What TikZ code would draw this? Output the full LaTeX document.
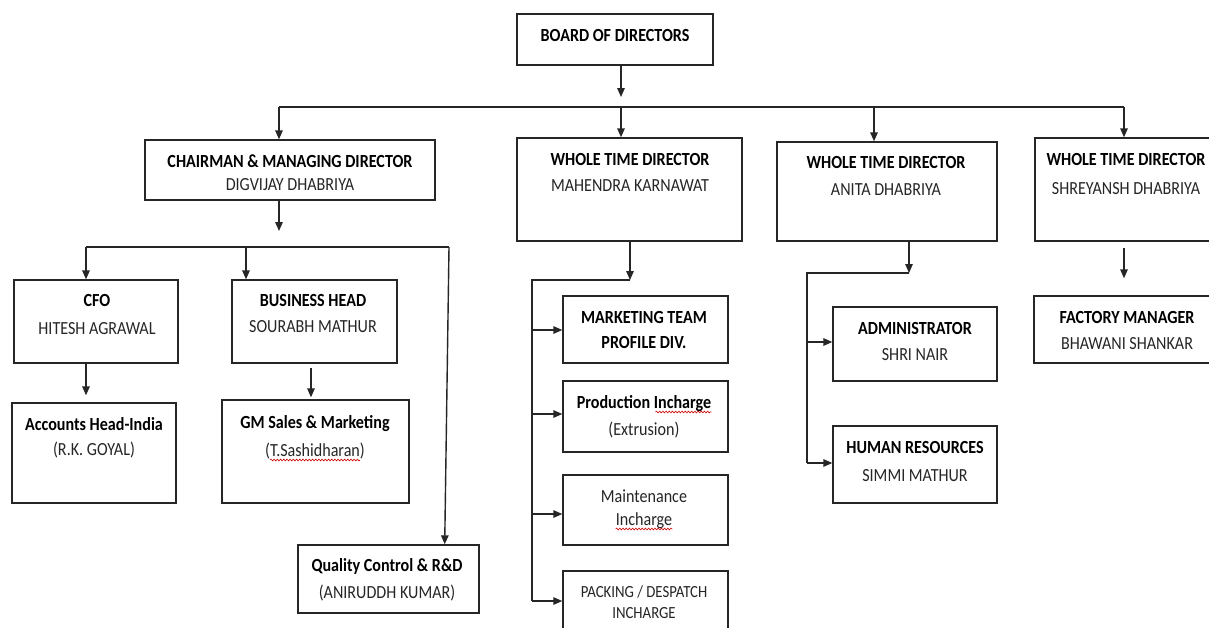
\documentclass[tikz,border=0pt]{standalone}
\usepackage{fontspec}
\setmainfont{Carlito}[FakeStretch=0.87]
\usetikzlibrary{arrows.meta,decorations.pathmorphing,calc,fit}
\tikzset{
 box/.style={draw=black!85, line width=1.4pt, rectangle, inner sep=0pt},
 ttl/.style={font=\fontsize{18.5}{20}\selectfont\bfseries, anchor=base, inner sep=0pt},
 nm/.style={font=\fontsize{18.5}{20}\selectfont, anchor=base, inner sep=0pt, text=black!85},
 sm/.style={font=\fontsize{17}{18}\selectfont, anchor=base, inner sep=0pt, text=black!85},
 con/.style={draw=black!85, line width=1.4pt},
 arr/.style={con, -{Triangle[length=9pt,width=7.5pt]}},
 squig/.style={draw=red!80!black, line width=0.6pt, decorate, decoration={snake, amplitude=0.9pt, segment length=3.2pt}},
}
\newcommand\bx[3]{\node[box,fit={#2 #3}] (#1) {};}
\begin{document}
\begin{tikzpicture}[x=1pt,y=-1pt]
\useasboundingbox (0,0) rectangle (1209,627);
\fill[white] (0,0) rectangle (1209,627);
% boxes
\bx{bod}{(517,14)}{(713,65)}
\bx{cmd}{(145,140)}{(435,200)}
\bx{wtd1}{(517,138)}{(742,241)}
\bx{wtd2}{(777,142)}{(997,241)}
\bx{wtd3}{(1035,138)}{(1220,241)}
\bx{cfo}{(14,280)}{(178,363)}
\bx{bh}{(232,280)}{(397,363)}
\bx{acc}{(12,403)}{(176,503)}
\bx{gm}{(222,400)}{(409,503)}
\bx{qc}{(298,545)}{(479,613)}
\bx{mkt}{(563,296)}{(728,363)}
\bx{prod}{(563,381)}{(728,452)}
\bx{mnt}{(563,475)}{(728,545)}
\bx{pack}{(563,571)}{(728,645)}
\bx{admin}{(833,307)}{(997,381)}
\bx{hr}{(833,426)}{(997,503)}
\bx{fac}{(1034,296)}{(1220,363)}
% texts
\node[ttl] (bodT) at (615,41) {BOARD OF DIRECTORS};
\node[ttl] (cmdT) at (290,167) {CHAIRMAN \& MANAGING DIRECTOR};
\node[nm]  (cmdN) at (290,190) {DIGVIJAY DHABRIYA};
\node[ttl] (wtd1T) at (630,165) {WHOLE TIME DIRECTOR};
\node[nm]  (wtd1N) at (630,191) {MAHENDRA KARNAWAT};
\node[ttl] (wtd2T) at (886,168) {WHOLE TIME DIRECTOR};
\node[nm]  (wtd2N) at (886,195) {ANITA DHABRIYA};
\node[ttl] (wtd3T) at (1126,165) {WHOLE TIME DIRECTOR};
\node[nm]  (wtd3N) at (1126,194) {SHREYANSH DHABRIYA};
\node[ttl] (cfoT) at (97,306) {CFO};
\node[nm]  (cfoN) at (97,334) {HITESH AGRAWAL};
\node[ttl] (bhT) at (313,306) {BUSINESS HEAD};
\node[nm]  (bhN) at (313,332) {SOURABH MATHUR};
\node[ttl] (accT) at (94,430) {Accounts Head-India};
\node[nm]  (accN) at (94,455) {(R.K. GOYAL)};
\node[ttl] (gmT) at (315,428) {GM Sales \& Marketing};
\node[nm]  (gmN) at (315,456) {(T.Sashidharan)};
\node[ttl] (qcT) at (387,571) {Quality Control \& R\&D};
\node[nm]  (qcN) at (387,598) {(ANIRUDDH KUMAR)};
\node[ttl] (mktT) at (644,323) {MARKETING TEAM};
\node[ttl] (mktN) at (644,348) {PROFILE DIV.};
\node[ttl] (prodT) at (644,408) {Production Incharge};
\node[nm]  (prodN) at (644,435) {(Extrusion)};
\node[nm]  (mntT) at (644,502) {Maintenance};
\node[nm]  (mntN) at (644,525) {Incharge};
\node[sm]  (packT) at (644,597) {PACKING / DESPATCH};
\node[sm]  (packN) at (644,618) {INCHARGE};
\node[ttl] (adminT) at (915,334) {ADMINISTRATOR};
\node[nm]  (adminN) at (915,360) {SHRI NAIR};
\node[ttl] (hrT) at (915,453) {HUMAN RESOURCES};
\node[nm]  (hrN) at (915,481) {SIMMI MATHUR};
\node[ttl] (facT) at (1127,323) {FACTORY MANAGER};
\node[nm]  (facN) at (1127,349) {BHAWANI SHANKAR};
% spell-check squiggles
\draw[squig] ($(prodT.base east)+(-56,4)$) -- ($(prodT.base east)+(0,4)$);
\draw[squig] ($(mntN.base west)+(0,4)$) -- ($(mntN.base east)+(0,4)$);
\draw[squig] ($(gmN.base west)+(5,4)$) -- ($(gmN.base east)+(-5,4)$);
% top level connectors
\coordinate (bL) at (279,107);
\coordinate (b1) at (621,107);
\coordinate (b3) at (874,107);
\coordinate (bR) at (1124,107);
\draw[arr] (bod.south -| b1) -- ($(b1)+(0,-10)$);
\draw[con] (bL) -- (bR);
\draw[arr] (bL) -- (bL |- cmd.north);
\draw[arr] (b1) -- (b1 |- wtd1.north);
\draw[arr] (b3) -- (b3 |- wtd2.north);
\draw[arr] (bR) -- (bR |- wtd3.north);
% chairman group
\coordinate (c0) at (279,247);
\coordinate (cL) at (86,247);
\coordinate (c2) at (246,247);
\coordinate (cR) at (449,247);
\draw[arr] (cmd.south -| c0) -- ($(c0)+(0,-16)$);
\draw[con] (cL) -- (cR);
\draw[arr] (cL) -- (cL |- cfo.north);
\draw[arr] (c2) -- (c2 |- bh.north);
\draw[arr] (cR) -- ($(qc.north east)+(-35,0)$);
\draw[arr] (cfo.south -| cL) -- ($(acc.north -| cL)+(0,-7)$);
\coordinate (g1) at (311,368);
\draw[arr] (g1) -- ($(g1 |- gm.north)+(0,-2)$);
% WTD1 group
\coordinate (w1) at (630,280);
\coordinate (w1L) at (532,280);
\coordinate (a1) at (532,330);
\coordinate (a2) at (532,414);
\coordinate (a3) at (532,514);
\coordinate (a4) at (532,601);
\draw[arr] (wtd1.south -| w1) -- (w1);
\draw[con] (w1) -- (w1L) -- (a4);
\draw[arr] (a1) -- (a1 -| mkt.west);
\draw[arr] (a2) -- (a2 -| prod.west);
\draw[arr] (a3) -- (a3 -| mnt.west);
\draw[arr] (a4) -- (a4 -| pack.west);
% WTD2 group
\coordinate (w2) at (909,273);
\coordinate (w2L) at (807,273);
\coordinate (a5) at (807,342);
\coordinate (a6) at (807,463);
\draw[arr] (wtd2.south -| w2) -- (w2);
\draw[con] (w2) -- (w2L) -- (a6);
\draw[arr] (a5) -- (a5 -| admin.west);
\draw[arr] (a6) -- (a6 -| hr.west);
% WTD3 group
\coordinate (f1) at (1124,248);
\draw[arr] (f1) -- ($(f1 |- fac.north)+(0,-17)$);
\end{tikzpicture}
\end{document}
